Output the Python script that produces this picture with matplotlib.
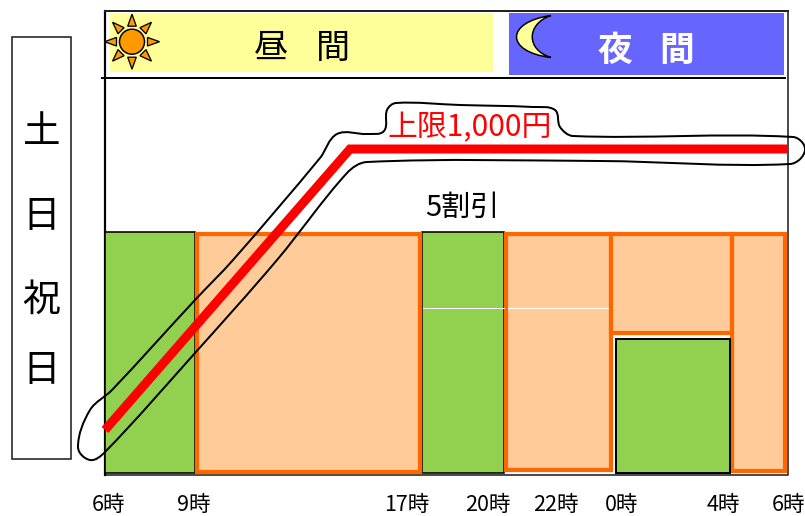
import numpy as np
import matplotlib
matplotlib.use("Agg")
import matplotlib.pyplot as plt
from matplotlib.path import Path
from matplotlib.patches import PathPatch, Rectangle, Circle, Polygon

plt.rcParams['font.family'] = ['Noto Sans CJK JP', 'DejaVu Sans']

W, H = 805, 516
px = 72 / 100

# x-axis tick labels and where they sit
tick_labels = ['6時', '9時', '17時', '20時', '22時', '0時', '4時', '6時']
tick_x = [108, 194, 407, 488, 556, 622, 723, 788]

# side label
side_chars = ['土', '日', '祝', '日']
side_y = [129, 213, 297, 367]

# banner characters
day_chars = ['昼', '間']
day_x = [271, 333]
night_chars = ['夜', '間']
night_x = [615, 677]

# green blocks: left, right, top, bottom
green_l = [105, 422, 616]
green_r = [195, 504, 730]
green_t = [232, 232, 339]
green_b = [473, 473, 473]

# orange blocks
orange_l = [197, 506, 611, 732]
orange_r = [420, 611, 732, 785]
orange_t = [234, 234, 234, 234]
orange_b = [472, 470, 333, 471]

# red price line
red_x = [105, 350, 788]
red_y = [430, 149, 149]

# hand-drawn outline around the line
blob_x = [112, 90, 78, 90, 105, 195, 277, 347, 367, 600, 790, 805, 793,
          573, 560, 555, 533, 460, 396, 387, 384, 367, 337, 320, 233, 195]
blob_y = [390, 410, 447, 460, 452, 353, 260, 173, 162, 161, 164, 150, 137,
          136, 127, 110, 107, 105, 103, 110, 131, 134, 134, 158, 260, 300]


def smooth_closed(xs, ys):
    p = np.column_stack([xs, ys]).astype(float)
    n = len(p)
    tang = []
    for i in range(n):
        a = p[(i + 1) % n] - p[i - 1]
        tang.append(a / np.hypot(*a))
    verts = [p[0]]
    codes = [Path.MOVETO]
    for i in range(n):
        j = (i + 1) % n
        d = np.hypot(*(p[j] - p[i])) / 3
        verts += [p[i] + tang[i] * d, p[j] - tang[j] * d, p[j]]
        codes += [Path.CURVE4] * 3
    return Path(verts, codes)


fig = plt.figure(figsize=(W / 100, H / 100), dpi=100)
ax = fig.add_axes([0, 0, 1, 1])
ax.set_xlim(0, W)
ax.set_ylim(H, 0)
ax.axis('off')

# Banner fills
ax.add_patch(Rectangle((110, 13), 383, 59, fc='#FFFF99', ec='none', zorder=1))
ax.add_patch(Rectangle((509, 13), 275, 62, fc='#6666FF', ec='none', zorder=1))

# Frame
ax.plot([105, 105, 788, 788, 105], [11, 475, 475, 11, 11], color='#222222', lw=1.6 * px, zorder=1.5)
ax.plot([105, 105], [11, 475], color='black', lw=2.2 * px, zorder=1.6)
ax.plot([105, 788], [11, 11], color='#222222', lw=2 * px, zorder=1.6)
ax.plot([102, 785], [78, 78], color='black', lw=2 * px, zorder=2)

# Side box
ax.add_patch(Rectangle((12, 37), 59, 422, fc='white', ec='#222222', lw=1.6 * px, zorder=2))
for c, y in zip(side_chars, side_y):
    ax.text(41, y + 3, c, fontsize=27, ha='center', va='center', color='black', zorder=3)

# Bars
for l, r, t, b in zip(green_l, green_r, green_t, green_b):
    ax.add_patch(Rectangle((l, t), r - l, b - t, fc='#92D050', ec='black', lw=1.6 * px, zorder=3))
for l, r, t, b in zip(orange_l, orange_r, orange_t, orange_b):
    ax.add_patch(Rectangle((l, t), r - l, b - t, fc='#FFCC99', ec='#FF6600', lw=4.2 * px, zorder=3.2))
ax.add_patch(Rectangle((616, 339), 114, 134, fc='#92D050', ec='black', lw=2 * px, zorder=3.4))
ax.plot([423, 504], [308, 308], color='white', lw=1 * px, zorder=3.5)
ax.plot([508, 608], [308, 308], color='white', lw=1 * px, zorder=3.5)

# Red line and outline
ax.plot(red_x, red_y, color='#FF0000', lw=9 * px, solid_joinstyle='miter',
        solid_capstyle='butt', zorder=5)
ax.add_patch(PathPatch(smooth_closed(blob_x, blob_y), fc='none', ec='black', lw=2 * px,
                       zorder=4.5, clip_on=True))

# Sun
cx, cy = 132, 41.7
ax.add_patch(Circle((cx, cy), 12.5, fc='#FF9900', ec='black', lw=1.5 * px, zorder=3))
for k in range(8):
    a = k * np.pi / 4
    d = np.array([np.cos(a), np.sin(a)])
    n = np.array([-d[1], d[0]])
    c = np.array([cx, cy])
    ax.add_patch(Polygon([c + d * 15.5 + n * 4.3, c + d * 15.5 - n * 4.3, c + d * 27.5], closed=True,
                         fc='#FF9900', ec='black', lw=1.3 * px, zorder=3))

# Moon
moon = Path([(551, 15.5), (505, 22), (505, 52), (551, 57.5), (526, 50), (526, 24), (551, 15.5)],
            [Path.MOVETO, Path.CURVE4, Path.CURVE4, Path.CURVE4, Path.CURVE4, Path.CURVE4, Path.CURVE4])
ax.add_patch(PathPatch(moon, fc='#FFFF99', ec='black', lw=1.5 * px, zorder=3))

# Texts
for c, x in zip(day_chars, day_x):
    ax.text(x, 48, c, fontsize=24.5, ha='center', va='center', color='black', zorder=6)
for c, x in zip(night_chars, night_x):
    ax.text(x, 50, c, fontsize=25, ha='center', va='center', color='white', fontweight='bold', zorder=6)
ax.text(470, 128, '上限1,000円', fontsize=21.5, ha='center', va='center', color='#FF0000', zorder=6)
ax.text(462, 208, '5割引', fontsize=21, ha='center', va='center', color='black', zorder=6)
for lab, x in zip(tick_labels, tick_x):
    ax.text(x, 505, lab, fontsize=15.5, ha='center', va='center', color='black', zorder=6)

fig.savefig('out.png', dpi=100)
